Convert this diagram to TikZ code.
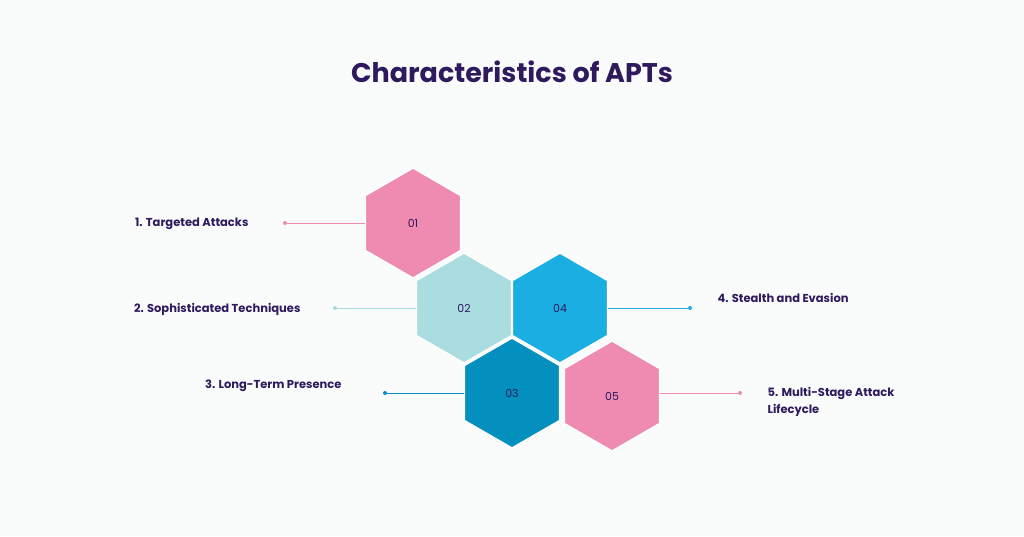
\documentclass[tikz,border=0pt]{standalone}
\usepackage{fontspec}
\setmainfont{Poppins}
\usepackage{tikz}
\usetikzlibrary{shapes.geometric,positioning}
\definecolor{ink}{HTML}{2E1A5C}
\definecolor{rose}{HTML}{EF8AB1}
\definecolor{aqua}{HTML}{A9DDE0}
\definecolor{sky}{HTML}{1BAEE3}
\definecolor{ocean}{HTML}{0390BF}
\definecolor{paper}{HTML}{FAFCFC}
\tikzset{
  hexa/.style={regular polygon,regular polygon sides=6,shape border rotate=30,
    minimum size=110pt,inner sep=0pt,draw=white,line width=1.5pt,fill=#1,
    text=ink,font=\fontsize{11}{13}\selectfont},
  lbl/.style={text=ink,font=\fontsize{11.5}{17}\selectfont\bfseries},
  dot/.style={circle,fill=#1,inner sep=0pt,minimum size=4pt}
}
\begin{document}
\begin{tikzpicture}[x=1pt,y=-1pt]
\fill[paper] (0,0) rectangle (1024,536);
\useasboundingbox (0,0) rectangle (1024,536);

% Title
\node[text=ink,font=\fontsize{27}{32}\selectfont\bfseries] (title) at (512,72) {Characteristics of APTs};

% Hexagons
\node[hexa=rose] (h1) at (413,223) {01};
\node[hexa=aqua] (h2) at (464,308) {02};
\node[hexa=sky] (h4) at (560,308) {04};
\node[hexa=ocean] (h3) at (512,393) {03};
\node[hexa=rose] (h5) at (612,396) {05};

% Connectors
\node[dot=rose] (d1) at (285,223) {};
\node[dot=aqua] (d2) at (335,308) {};
\node[dot=ocean] (d3) at (385,393) {};
\node[dot=sky] (d4) at (690,308) {};
\node[dot=rose] (d5) at (740,393) {};
\draw[rose,thick] (d1) -- (h1.west |- d1);
\draw[aqua,thick] (d2) -- (h2.west |- d2);
\draw[ocean,thick] (d3) -- (h3.west |- d3);
\draw[sky,thick] (d4) -- (h4.east |- d4);
\draw[rose,thick] (d5) -- (h5.east |- d5);

% Labels
\node[lbl,anchor=east] (l1) at (252,224) {1. Targeted Attacks};
\node[lbl,anchor=east] (l2) at (304,309) {2. Sophisticated Techniques};
\node[lbl,anchor=east] (l3) at (345,386) {3. Long-Term Presence};
\node[lbl,anchor=west] (l4) at (714,298) {4. Stealth and Evasion};
\node[lbl,anchor=west,align=left] (l5) at (764,402) {5. Multi-Stage Attack\\Lifecycle};
\end{tikzpicture}
\end{document}
